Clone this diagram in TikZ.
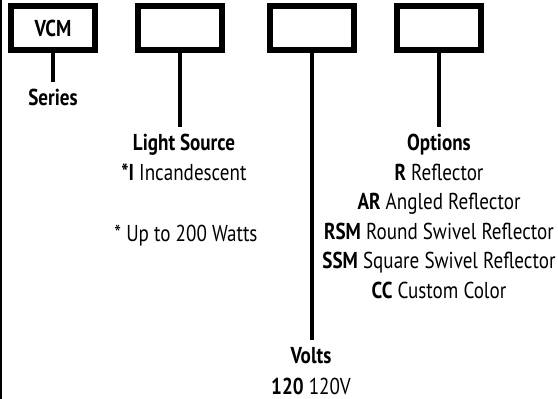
\documentclass[tikz,border=0pt]{standalone}
\usepackage{fontspec}
\setmainfont{PT Sans}[FakeStretch=0.83]
\begin{document}
\begin{tikzpicture}[x=1pt,y=-1pt,
  box/.style={draw,line width=6pt,minimum width=84pt,minimum height=44pt,inner sep=0pt},
  conn/.style={line width=3.2pt},
  lbl/.style={anchor=base,inner sep=0pt,font=\fontsize{23}{26}\selectfont},
  edge/.style={line width=1.5pt}]
\useasboundingbox (0,0) rectangle (558,399);
% left rule
\coordinate (lt) at (0.75,0);
\coordinate (lb) at (0.75,399);
\draw[edge] (lt) -- (lb);
% boxes
\node[box] (b1) at (53,28) {};
\node[box] (b2) at (180,28) {};
\node[box] (b3) at (312,28) {};
\node[box] (b4) at (439,28) {};
\node[lbl] (vcm) at (53,36) {\textbf{VCM}};
% connector ends
\coordinate (e1) at (53,82);
\coordinate (e2) at (180,127);
\coordinate (e3) at (312,340);
\coordinate (e4) at (439,127);
\draw[conn] (b1.south) -- (e1);
\draw[conn] (b2.south) -- (e2);
\draw[conn] (b3.south) -- (e3);
\draw[conn] (b4.south) -- (e4);
% labels
\node[lbl] (series) at (53,105) {\textbf{Series}};
\node[lbl] (ls) at (184,150) {\textbf{Light Source}};
\node[lbl] (inc) at (184,180) {\textbf{*I} Incandescent};
\node[lbl] (watts) at (186,241) {* Up to 200 Watts};
\node[lbl] (opt) at (439,150) {\textbf{Options}};
\node[lbl] (o1) at (439,180) {\textbf{R} Reflector};
\node[lbl] (o2) at (439,209.5) {\textbf{AR} Angled Reflector};
\node[lbl] (o3) at (439,239) {\textbf{RSM} Round Swivel Reflector};
\node[lbl] (o4) at (439,268.5) {\textbf{SSM} Square Swivel Reflector};
\node[lbl] (o5) at (439,298) {\textbf{CC} Custom Color};
\node[lbl] (volts) at (311,363) {\textbf{Volts}};
\node[lbl] (v1) at (311,394) {\textbf{120} 120V};
\end{tikzpicture}
\end{document}
